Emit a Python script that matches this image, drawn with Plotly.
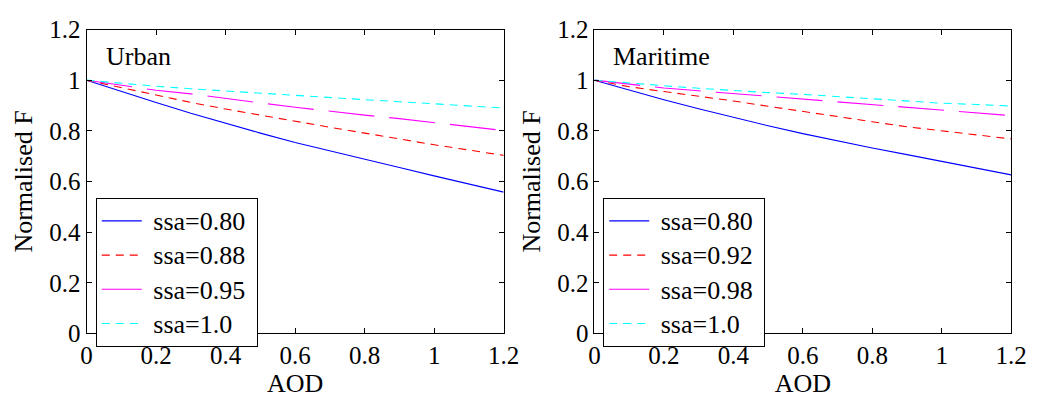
import plotly.graph_objects as go

aod = [0.0, 0.1, 0.2, 0.3, 0.4, 0.5, 0.6, 0.7, 0.8, 0.9, 1.0, 1.1, 1.2]

# Urban
urban_labels = ["ssa=0.80", "ssa=0.88", "ssa=0.95", "ssa=1.0"]
urban_080 = [1.0, 0.955, 0.912, 0.869, 0.829, 0.791, 0.754, 0.720, 0.687, 0.655, 0.622, 0.590, 0.558]
urban_088 = [1.0, 0.970, 0.942, 0.912, 0.886, 0.861, 0.838, 0.814, 0.791, 0.767, 0.745, 0.724, 0.703]
urban_095 = [1.0, 0.980, 0.960, 0.946, 0.927, 0.910, 0.893, 0.877, 0.862, 0.848, 0.833, 0.817, 0.801]
urban_100 = [1.0, 0.987, 0.976, 0.966, 0.957, 0.950, 0.941, 0.932, 0.923, 0.915, 0.907, 0.899, 0.890]

# Maritime
mar_labels = ["ssa=0.80", "ssa=0.92", "ssa=0.98", "ssa=1.0"]
mar_080 = [1.0, 0.961, 0.923, 0.887, 0.853, 0.820, 0.789, 0.760, 0.732, 0.706, 0.679, 0.652, 0.626]
mar_092 = [1.0, 0.974, 0.955, 0.937, 0.918, 0.897, 0.876, 0.856, 0.836, 0.816, 0.799, 0.784, 0.768]
mar_098 = [1.0, 0.984, 0.969, 0.958, 0.947, 0.936, 0.925, 0.915, 0.905, 0.893, 0.881, 0.871, 0.860]
mar_100 = [1.0, 0.988, 0.978, 0.968, 0.959, 0.951, 0.944, 0.935, 0.925, 0.916, 0.909, 0.904, 0.898]

panel_titles = ["Urban", "Maritime"]
x_title = "AOD"
y_title = "Normalised F"

colors = ["#0000ff", "#ff0000", "#ff00ff", "#00ffff"]
dashes = ["solid", "8px,6px", "46px,15px", "8px,6px"]

FONT = "Liberation Serif"
FS = 26
TICK_FS = 25
LEG_FS = 24


def leg_name(s):
    return '<span style="font-size:26px">\u00a0' + s + '\u00a0</span>'


fig = go.Figure()

urban_series = [urban_080, urban_088, urban_095, urban_100]
mar_series = [mar_080, mar_092, mar_098, mar_100]

for i, ys in enumerate(urban_series):
    fig.add_trace(go.Scatter(x=aod, y=ys, mode="lines", name=leg_name(urban_labels[i]),
                             line=dict(color=colors[i], width=1.1, dash=dashes[i]),
                             xaxis="x", yaxis="y", legend="legend"))
for i, ys in enumerate(mar_series):
    fig.add_trace(go.Scatter(x=aod, y=ys, mode="lines", name=leg_name(mar_labels[i]),
                             line=dict(color=colors[i], width=1.1, dash=dashes[i]),
                             xaxis="x2", yaxis="y2", legend="legend2"))

W, H = 1050, 405
ydom = [1 - 343.3 / H, 1 - 17.7 / H]
xdom1 = [82.3 / W, 508.3 / W]
xdom2 = [601.0 / W, 1026.7 / W]

axis_common = dict(range=[0, 1.2], dtick=0.2, tick0=0, showline=True, linecolor="black",
                   linewidth=1, mirror="ticks", ticks="inside", ticklen=5, tickcolor="black",
                   showgrid=False, zeroline=False,
                   tickfont=dict(family=FONT, size=TICK_FS, color="black"))

leg_common = dict(xanchor="left", yanchor="top", bgcolor="white", bordercolor="black",
                  borderwidth=1, itemwidth=40,
                  font=dict(family=FONT, size=LEG_FS, color="black"),
                  tracegroupgap=0)

title_font = dict(family=FONT, size=FS, color="black")

fig.update_layout(
    width=W, height=H,
    margin=dict(l=0, r=0, t=0, b=0),
    paper_bgcolor="white", plot_bgcolor="white",
    font=dict(family=FONT, size=FS, color="black"),
    xaxis=dict(domain=xdom1, anchor="y", title=dict(text=x_title, standoff=3, font=title_font), **axis_common),
    yaxis=dict(domain=ydom, anchor="x", title=dict(text=y_title, standoff=9, font=title_font), **axis_common),
    xaxis2=dict(domain=xdom2, anchor="y2", title=dict(text=x_title, standoff=3, font=title_font), **axis_common),
    yaxis2=dict(domain=ydom, anchor="x2", title=dict(text=y_title, standoff=9, font=title_font), **axis_common),
    legend=dict(x=91.7 / W, y=1 - 198 / H, **leg_common),
    legend2=dict(x=610 / W, y=1 - 198 / H, **leg_common),
    showlegend=True,
    annotations=[
        dict(text=panel_titles[0], x=100 / W, y=1 - 47 / H, xref="paper", yref="paper",
             xanchor="left", yanchor="middle", showarrow=False,
             font=dict(family=FONT, size=FS, color="black")),
        dict(text=panel_titles[1], x=618 / W, y=1 - 47 / H, xref="paper", yref="paper",
             xanchor="left", yanchor="middle", showarrow=False,
             font=dict(family=FONT, size=FS, color="black")),
    ],
)

fig.write_html("out.html")
